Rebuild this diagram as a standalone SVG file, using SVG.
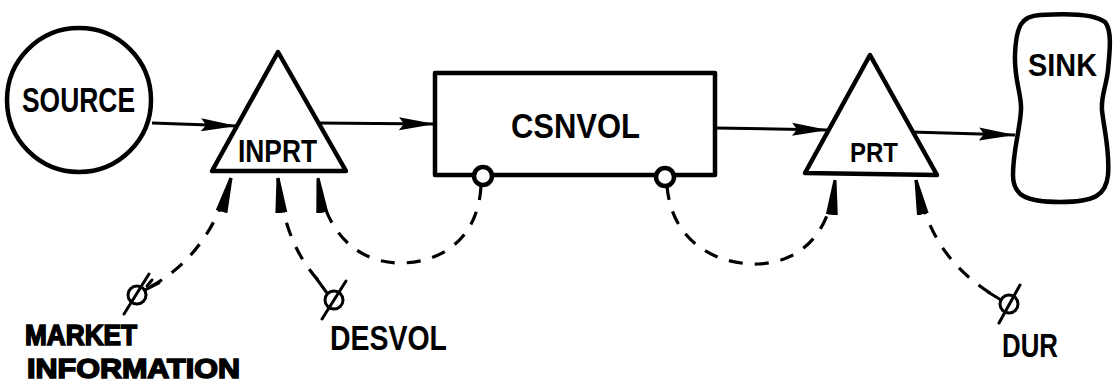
<svg xmlns="http://www.w3.org/2000/svg" width="1113" height="391" viewBox="0 0 1113 391">
  <style>
    .shape { fill: #fff; stroke: #000; stroke-width: 4.5; stroke-linejoin: round; }
    .flow { fill: none; stroke: #000; stroke-width: 3; }
    .info { fill: none; stroke: #000; stroke-width: 3.2; stroke-dasharray: 14 12; stroke-linecap: butt; }
    .valve { fill: none; stroke: #000; stroke-width: 3; stroke-linecap: round; }
    .lbl { font-family: "Liberation Sans", Arial, sans-serif; font-weight: bold; fill: #000; }
    .heavy { stroke: #000; stroke-width: 1.6; }
  </style>
  <defs>
    <marker id="flowhead" markerUnits="userSpaceOnUse" markerWidth="40" markerHeight="16" refX="36" refY="7.5" orient="auto">
      <path d="M0,1 L36,7.5 L0,14 L5,7.5 Z" fill="#000"/>
    </marker>
    <marker id="infohead" markerUnits="userSpaceOnUse" markerWidth="38" markerHeight="14" refX="35" refY="6.5" orient="auto">
      <path d="M0,0.5 L35,5 L35,8 L0,12.5 Z" fill="#000"/>
    </marker>
  </defs>

  <!-- flow and information links -->
  <g id="connectors">
    <path class="flow" d="M152,123 L237,126" marker-end="url(#flowhead)"/>
    <path class="flow" d="M318,123 L435,124" marker-end="url(#flowhead)"/>
    <path class="flow" d="M715,128 L828,130" marker-end="url(#flowhead)"/>
    <path class="flow" d="M911,132 L1015,135" marker-end="url(#flowhead)"/>

    <path class="info" d="M150,287 C185,268 215,235 231,178" marker-end="url(#infohead)"/>
    <path class="info" d="M318,280 C300,260 283,230 278,178" marker-end="url(#infohead)"/>
    <path class="info" d="M481,186 C478,240 440,263 400,263 C360,263 325,235 318,178" marker-end="url(#infohead)"/>
    <path class="info" d="M667,186 C672,245 720,265 758,264 C800,262 830,235 835,180" marker-end="url(#infohead)"/>
    <path class="info" d="M990,293 C955,270 928,240 916,180" marker-end="url(#infohead)"/>
  </g>

  <g id="source">
    <circle class="shape" cx="79" cy="100" r="72"/>
    <text class="lbl" x="22" y="112" font-size="35" textLength="113" lengthAdjust="spacingAndGlyphs">SOURCE</text>
  </g>

  <g id="inprt">
    <path class="shape" d="M278,52 L212,171 L346,171 Z"/>
    <text class="lbl" x="238" y="162" font-size="31" textLength="79" lengthAdjust="spacingAndGlyphs">INPRT</text>
  </g>

  <g id="csnvol">
    <rect class="shape" x="435" y="73" width="280" height="102"/>
    <text class="lbl" x="511" y="138" font-size="35" font-weight="normal" textLength="129" lengthAdjust="spacingAndGlyphs">CSNVOL</text>
    <circle class="shape" cx="483" cy="176" r="9" stroke-width="3"/>
    <circle class="shape" cx="665" cy="177" r="9" stroke-width="3"/>
  </g>

  <g id="prt">
    <path class="shape" d="M870,55 L805,173 L937,175 Z"/>
    <text class="lbl" x="850" y="162" font-size="28" textLength="48" lengthAdjust="spacingAndGlyphs">PRT</text>
  </g>

  <g id="sink">
    <path class="shape" d="M1040,15 C1070,13 1095,14 1105,22 C1112,30 1110,50 1108,70 C1106,88 1101,95 1102,110 C1104,130 1110,150 1108,175 C1106,195 1095,202 1060,202 C1025,202 1013,195 1013,175 C1013,150 1020,130 1021,110 C1022,95 1014,80 1015,55 C1016,25 1022,16 1040,15 Z"/>
    <text class="lbl" x="1028" y="76" font-size="31" textLength="69" lengthAdjust="spacingAndGlyphs">SINK</text>
  </g>

  <g id="market-information">
    <circle class="valve" cx="137" cy="295" r="9"/>
    <line class="valve" x1="124" y1="314" x2="149" y2="274"/>
    <path class="valve" d="M145,290 L159,283 M147,286 L152,280"/>
    <text class="lbl heavy" x="25" y="345" font-size="29" textLength="112" lengthAdjust="spacingAndGlyphs">MARKET</text>
    <text class="lbl heavy" x="27" y="378" font-size="28" textLength="213" lengthAdjust="spacingAndGlyphs">INFORMATION</text>
  </g>

  <g id="desvol">
    <circle class="valve" cx="334" cy="300" r="9"/>
    <line class="valve" x1="322" y1="319" x2="346" y2="281"/>
    <path class="valve" d="M316,278 L327,293"/>
    <text class="lbl" x="330" y="350" font-size="35" textLength="117" lengthAdjust="spacingAndGlyphs">DESVOL</text>
  </g>

  <g id="dur">
    <circle class="valve" cx="1009" cy="304" r="9"/>
    <line class="valve" x1="999" y1="323" x2="1020" y2="285"/>
    <path class="valve" d="M988,292 L1001,300"/>
    <text class="lbl" x="1002" y="357" font-size="33" textLength="56" lengthAdjust="spacingAndGlyphs">DUR</text>
  </g>
</svg>
